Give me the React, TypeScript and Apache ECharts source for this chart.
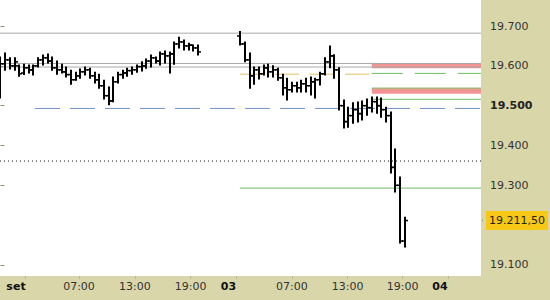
import React, { useEffect, useRef } from "react";
import * as echarts from "echarts";

// [open, high, low, close] per 30-minute bar
type Bar = [number, number, number, number];

const sep02Bars: Bar[] = [
  [19530, 19622, 19519, 19605], [19605, 19632, 19589, 19615], [19615, 19620, 19592, 19600],
  [19600, 19620, 19589, 19610], [19600, 19602, 19574, 19580], [19582, 19604, 19578, 19595],
  [19595, 19602, 19582, 19590], [19590, 19602, 19577, 19600], [19600, 19620, 19597, 19615],
  [19615, 19627, 19602, 19620], [19620, 19630, 19607, 19612], [19612, 19622, 19589, 19595],
  [19595, 19612, 19579, 19590], [19590, 19604, 19582, 19585], [19585, 19597, 19572, 19578],
  [19578, 19589, 19554, 19565], [19565, 19584, 19564, 19575], [19575, 19592, 19569, 19585],
  [19585, 19597, 19577, 19590], [19590, 19594, 19569, 19575], [19575, 19584, 19557, 19565],
  [19565, 19579, 19544, 19550], [19550, 19564, 19517, 19525], [19525, 19547, 19502, 19512],
  [19512, 19572, 19510, 19560], [19560, 19584, 19557, 19578], [19578, 19589, 19569, 19582],
  [19582, 19594, 19574, 19588], [19588, 19597, 19579, 19590], [19590, 19602, 19584, 19598],
  [19598, 19610, 19587, 19600], [19600, 19617, 19594, 19612], [19612, 19627, 19597, 19620],
  [19620, 19622, 19607, 19612], [19612, 19635, 19602, 19630], [19630, 19637, 19607, 19625],
  [19625, 19635, 19582, 19630], [19630, 19660, 19604, 19655], [19655, 19672, 19645, 19660],
  [19660, 19665, 19640, 19650], [19650, 19657, 19640, 19652], [19652, 19652, 19637, 19645],
  [19645, 19652, 19627, 19635],
];

const sep03Bars: Bar[] = [
  [19675, 19686, 19652, 19655], [19655, 19660, 19610, 19615], [19615, 19632, 19544, 19575],
  [19575, 19597, 19554, 19590], [19590, 19597, 19567, 19580], [19580, 19602, 19577, 19595],
  [19595, 19604, 19572, 19585], [19585, 19600, 19572, 19590], [19590, 19594, 19564, 19570],
  [19570, 19579, 19527, 19545], [19545, 19569, 19514, 19540], [19540, 19559, 19534, 19550],
  [19550, 19559, 19534, 19545], [19545, 19564, 19534, 19555], [19555, 19569, 19534, 19550],
  [19550, 19572, 19527, 19560], [19560, 19569, 19519, 19565], [19565, 19584, 19552, 19580],
  [19580, 19620, 19577, 19610], [19610, 19650, 19595, 19625], [19625, 19628, 19569, 19590],
  [19590, 19595, 19489, 19500], [19500, 19514, 19444, 19460], [19460, 19496, 19446, 19475],
  [19475, 19507, 19456, 19490], [19490, 19509, 19459, 19480], [19480, 19512, 19464, 19500],
  [19500, 19517, 19476, 19495], [19495, 19522, 19484, 19510], [19510, 19522, 19481, 19500],
  [19500, 19519, 19471, 19490], [19490, 19496, 19459, 19475], [19475, 19484, 19331, 19345],
  [19345, 19391, 19283, 19300], [19300, 19321, 19155, 19160], [19160, 19220, 19145, 19211.5],
];

const sep02FirstSlot = 0;
const sep03FirstSlot = 51;
const levelsFromSlot = 79;
const slotMin = -0.106;
const slotMax = 102.23;

const hourTickSlots = [16.7, 28.6, 40.45, 62.0, 73.85, 85.55];
const hourLabels = ["07:00", "13:00", "19:00", "07:00", "13:00", "19:00"];
const dayTickSlots = [5.2, 50.25, 95.2];
const dayLabelSlots = [3.3, 48.5, 93.5];
const dayLabels = ["set", "03", "04"];

const priceTicks = [19100, 19300, 19400, 19500, 19600, 19700];
const boldPriceTicks = [19500];
const priceMin = 19072.3;
const priceMax = 19765.3;
const lastPrice = 19211.5;
const lastPriceText = "19.211,50";

const greyLevels = [19682, 19606, 19597];
const blueDashedLevel = 19493;
const dottedLevel = 19361;
const greenLevel = 19293;
const yellowDashedLevel = 19579;
const greenDashedLevel = 19581;
const redZones: [number, number][] = [[19594, 19607], [19530, 19543]];
const greenZoneLines = [19544, 19516];

const FONT = "DejaVu Sans";

function fmtPrice(v: number) {
  const th = Math.floor(v / 1000);
  const rest = String(Math.round(v % 1000)).padStart(3, "0");
  return `${th}.${rest}`;
}

export default function App() {
  const ref = useRef<HTMLDivElement>(null);
  useEffect(() => {
    if (!ref.current) return;
    const chart = echarts.init(ref.current, undefined, { renderer: "svg" });

    const ohlc = [
      ...sep02Bars.map((b, i) => [sep02FirstSlot + i, ...b]),
      ...sep03Bars.map((b, i) => [sep03FirstSlot + i, ...b]),
    ];

    const seg = (x1: number, x2: number, v: number, color: string, type: any, z = 2, extra: any = {}) => ({
      type: "line",
      data: [[x1, v], [x2, v]],
      symbol: "none",
      silent: true,
      z,
      lineStyle: { color, width: 1, type },
      ...extra,
    });

    const allLabelSlots = [...dayLabelSlots, ...hourTickSlots];
    const labelFor = (value: number) => {
      for (let i = 0; i < dayLabelSlots.length; i++)
        if (Math.abs(dayLabelSlots[i] - value) < 1e-6) return `{d|${dayLabels[i]}}`;
      for (let i = 0; i < hourTickSlots.length; i++)
        if (Math.abs(hourTickSlots[i] - value) < 1e-6) return `{h|${hourLabels[i]}}`;
      return "";
    };

    chart.setOption({
      animation: false,
      backgroundColor: "#d9d6aa",
      grid: { left: 0, top: 0, right: 69, bottom: 24, show: true, backgroundColor: "#ffffff", borderWidth: 0 },
      xAxis: {
        type: "value",
        min: slotMin,
        max: slotMax,
        splitLine: { show: false },
        axisLine: { show: false },
        axisTick: { show: true, length: 3, lineStyle: { color: "#b8b58c" }, customValues: [...dayTickSlots, ...hourTickSlots] },
        axisLabel: {
          customValues: allLabelSlots,
          margin: 5,
          formatter: (v: number) => labelFor(v),
          rich: {
            d: { fontFamily: FONT, fontSize: 11, fontWeight: "bold", color: "#111" },
            h: { fontFamily: FONT, fontSize: 11, color: "#333" },
          },
        },
      },
      yAxis: {
        type: "value",
        position: "right",
        min: priceMin,
        max: priceMax,
        splitLine: { show: false },
        axisLine: { show: false },
        axisTick: { show: true, length: 4, lineStyle: { color: "#8f8d70" }, customValues: priceTicks },
        axisLabel: {
          customValues: priceTicks,
          margin: 9,
          formatter: (v: number) => (boldPriceTicks.includes(v) ? `{b|${fmtPrice(v)}}` : `{n|${fmtPrice(v)}}`),
          rich: {
            b: { fontFamily: FONT, fontSize: 11, fontWeight: "bold", color: "#222" },
            n: { fontFamily: FONT, fontSize: 11, color: "#333" },
          },
        },
      },
      series: [
        ...greyLevels.map((v) => seg(slotMin, slotMax, v, "#a8a8a8", "solid")),
        seg(7.34, slotMax, blueDashedLevel, "#6f93cc", [25, 10]),
        seg(slotMin, slotMax, dottedLevel, "#111111", [1, 3]),
        seg(sep03FirstSlot - 0.05, slotMax, greenLevel, "#6cbd62", "solid"),
        seg(sep03FirstSlot - 0.05, levelsFromSlot, yellowDashedLevel, "#e3bf63", [24, 11]),
        seg(levelsFromSlot, slotMax, greenDashedLevel, "#6cbd62", [31, 12]),
        seg(levelsFromSlot, slotMax, greenZoneLines[0], "#7aa84a", "solid", 2),
        seg(levelsFromSlot, slotMax, greenZoneLines[1], "#6cbd62", "solid", 2, {
          markArea: {
            silent: true,
            itemStyle: { color: "#f29494", opacity: 1 },
            data: redZones.map(([lo, hi]) => [{ coord: [levelsFromSlot, hi] }, { coord: [slotMax, lo] }]),
          },
        }),
        // last price tick just outside the plot
        seg(slotMax + 0.35, slotMax + 1.1, lastPrice, "#222222", "solid", 6, { clip: false, lineStyle: { color: "#222", width: 1.5 } }),
        // invisible last-price line carrying the price box label
        {
          type: "line",
          data: [[slotMin, lastPrice], [slotMax, lastPrice]],
          symbol: "none",
          silent: true,
          z: 7,
          lineStyle: { width: 0, color: "rgba(0,0,0,0)" },
          endLabel: {
            show: true,
            distance: 5,
            formatter: () => lastPriceText,
            backgroundColor: "#f7c815",
            color: "#222",
            fontFamily: FONT,
            fontSize: 11,
            padding: [4, 3, 4, 3],
          },
        },
        {
          type: "custom",
          z: 5,
          data: ohlc,
          encode: { x: 0, y: [1, 2, 3, 4] },
          renderItem: (params: any, api: any) => {
            const x = api.value(0);
            const pO = api.coord([x, api.value(1)]);
            const pH = api.coord([x, api.value(2)]);
            const pL = api.coord([x, api.value(3)]);
            const pC = api.coord([x, api.value(4)]);
            const cx = Math.round(pO[0]);
            const st = { stroke: "#000", lineWidth: 2 };
            return {
              type: "group",
              children: [
                { type: "line", shape: { x1: cx, y1: pH[1] - 0.5, x2: cx, y2: pL[1] + 0.5 }, style: st },
                { type: "line", shape: { x1: cx - 3, y1: pO[1], x2: cx, y2: pO[1] }, style: { stroke: "#000", lineWidth: 1.5 } },
                { type: "line", shape: { x1: cx, y1: pC[1], x2: cx + 3, y2: pC[1] }, style: { stroke: "#000", lineWidth: 1.5 } },
              ],
            };
          },
        },
      ],
    });
    return () => chart.dispose();
  }, []);
  return <div ref={ref} style={{ position: "absolute", left: 0, top: 0, width: 550, height: 300 }} />;
}
